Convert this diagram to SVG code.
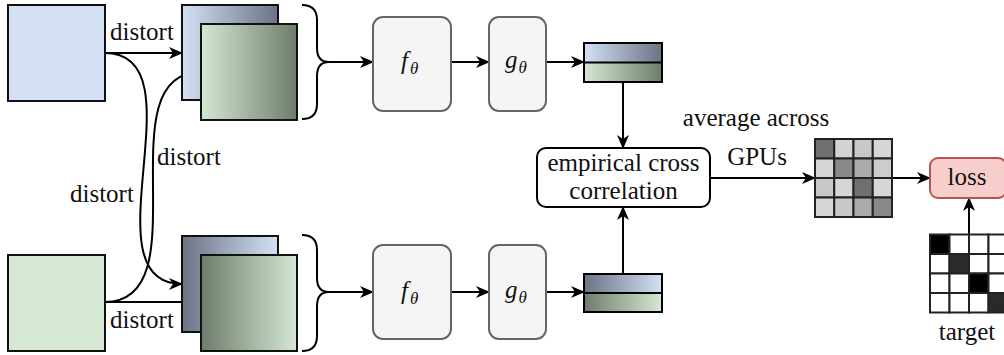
<svg xmlns="http://www.w3.org/2000/svg" width="1004" height="355" viewBox="0 0 1004 355">
<style>
.t{font-size:25px;fill:#111;font-family:"Liberation Serif","Times New Roman",serif}
.sq{stroke:#111;stroke-width:2}
.proc{fill:#f5f5f5;stroke:#666;stroke-width:2}
.ln{fill:none;stroke:#000;stroke-width:2}
.arr{fill:none;stroke:#000;stroke-width:2;marker-end:url(#ah)}
.cell{stroke:#222;stroke-width:2}
.mi{font-style:italic}
.sub{font-style:italic;font-size:17px}
</style>
<defs>
<marker id="ah" markerUnits="userSpaceOnUse" markerWidth="14" markerHeight="12" refX="13" refY="6" orient="auto">
<path d="M0,0 L14,6 L0,12 L4,6 Z" fill="#000"/>
</marker>
<linearGradient id="bR" x1="0" y1="0" x2="1" y2="0"><stop offset="0" stop-color="#d4e1f5"/><stop offset="1" stop-color="#6b7385"/></linearGradient>
<linearGradient id="bL" x1="0" y1="0" x2="1" y2="0"><stop offset="0" stop-color="#6b7385"/><stop offset="1" stop-color="#d4e1f5"/></linearGradient>
<linearGradient id="gR" x1="0" y1="0" x2="1" y2="0"><stop offset="0" stop-color="#d5e8d4"/><stop offset="1" stop-color="#6e7d6b"/></linearGradient>
<linearGradient id="gL" x1="0" y1="0" x2="1" y2="0"><stop offset="0" stop-color="#6e7d6b"/><stop offset="1" stop-color="#d5e8d4"/></linearGradient>
</defs>

<g id="connectors">
<path class="arr" d="M105,53 L182,53"/>
<path class="arr" d="M105,53 C203,53 84,284 182,284"/>
<path class="arr" d="M105,302 C203,302 103,72 201,72"/>
<path class="arr" d="M105,302 L201,302"/>
<path class="arr" d="M329,62 L373,62"/>
<path class="arr" d="M451,62 L489,62"/>
<path class="arr" d="M546,62 L584,62"/>
<path class="arr" d="M329,292 L373,292"/>
<path class="arr" d="M451,292 L489,292"/>
<path class="arr" d="M546,292 L584,292"/>
<path class="arr" d="M623,82 L623,148"/>
<path class="arr" d="M623,274 L623,207"/>
<path class="arr" d="M710,178 L815,178"/>
<path class="arr" d="M892,178 L930,178"/>
<path class="arr" d="M969,234 L969,198"/>
</g>

<g id="labels">
<text class="t" x="110" y="40">distort</text>
<text class="t" x="157" y="165">distort</text>
<text class="t" x="70" y="202">distort</text>
<text class="t" x="110" y="328">distort</text>
<text class="t" x="756" y="126" text-anchor="middle">average across</text>
<text class="t" x="757" y="165" text-anchor="middle">GPUs</text>
</g>

<g id="input-top"><rect class="sq" x="8" y="5" width="97" height="96" fill="#d4e1f5"/></g>
<g id="input-bottom"><rect class="sq" x="8" y="255" width="97" height="96" fill="#d5e8d4"/></g>

<g id="views-top">
<rect class="sq" x="182" y="5" width="96" height="95" fill="url(#bR)"/>
<rect class="sq" x="201" y="24" width="96" height="96" fill="url(#gR)"/>
</g>
<g id="views-bottom">
<rect class="sq" x="182" y="236" width="96" height="96" fill="url(#bL)"/>
<rect class="sq" x="201" y="255" width="96" height="96" fill="url(#gL)"/>
</g>

<g id="brace-top"><path class="ln" d="M302,5 Q317,5 317,20 L317,48 Q317,62 329,62 Q317,62 317,76 L317,104 Q317,119 302,119"/></g>
<g id="brace-bottom"><path class="ln" d="M302,235 Q317,235 317,250 L317,278 Q317,292 329,292 Q317,292 317,306 L317,336 Q317,351 302,351"/></g>

<g id="f-top"><rect class="proc" x="373" y="17" width="78" height="94" rx="10"/><text class="t" x="401" y="69"><tspan class="mi">f</tspan><tspan class="sub" dx="2" dy="5">θ</tspan></text></g>
<g id="g-top"><rect class="proc" x="489" y="17" width="57" height="94" rx="10"/><text class="t" x="505" y="68"><tspan class="mi">g</tspan><tspan class="sub" dx="1" dy="5">θ</tspan></text></g>
<g id="f-bottom"><rect class="proc" x="373" y="245" width="78" height="94" rx="10"/><text class="t" x="401" y="299"><tspan class="mi">f</tspan><tspan class="sub" dx="2" dy="5">θ</tspan></text></g>
<g id="g-bottom"><rect class="proc" x="489" y="245" width="57" height="94" rx="10"/><text class="t" x="505" y="298"><tspan class="mi">g</tspan><tspan class="sub" dx="1" dy="5">θ</tspan></text></g>

<g id="emb-top">
<rect x="584" y="43" width="78" height="19.5" fill="url(#bR)"/>
<rect x="584" y="62.5" width="78" height="19.5" fill="url(#gR)"/>
<rect class="ln" x="584" y="43" width="78" height="39"/>
<line class="ln" x1="584" y1="62.5" x2="662" y2="62.5"/>
</g>
<g id="emb-bottom">
<rect x="584" y="274" width="78" height="19" fill="url(#bL)"/>
<rect x="584" y="293" width="78" height="19" fill="url(#gL)"/>
<rect class="ln" x="584" y="274" width="78" height="38"/>
<line class="ln" x1="584" y1="293" x2="662" y2="293"/>
</g>

<g id="cross-correlation">
<rect x="537" y="148" width="173" height="59" rx="9" fill="#fff" stroke="#000" stroke-width="2"/>
<text class="t" x="623.5" y="171" text-anchor="middle">empirical cross</text>
<text class="t" x="623.5" y="199" text-anchor="middle">correlation</text>
</g>

<g id="cc-matrix">
<rect class="cell" x="815" y="139" width="19.25" height="19.5" fill="#707070"/>
<rect class="cell" x="834.25" y="139" width="19.25" height="19.5" fill="#d3d3d3"/>
<rect class="cell" x="853.5" y="139" width="19.25" height="19.5" fill="#c8c8c8"/>
<rect class="cell" x="872.75" y="139" width="19.25" height="19.5" fill="#d6d6d6"/>
<rect class="cell" x="815" y="158.5" width="19.25" height="19.5" fill="#d6d6d6"/>
<rect class="cell" x="834.25" y="158.5" width="19.25" height="19.5" fill="#888888"/>
<rect class="cell" x="853.5" y="158.5" width="19.25" height="19.5" fill="#ababab"/>
<rect class="cell" x="872.75" y="158.5" width="19.25" height="19.5" fill="#cccccc"/>
<rect class="cell" x="815" y="178" width="19.25" height="19.5" fill="#c8c8c8"/>
<rect class="cell" x="834.25" y="178" width="19.25" height="19.5" fill="#d6d6d6"/>
<rect class="cell" x="853.5" y="178" width="19.25" height="19.5" fill="#707070"/>
<rect class="cell" x="872.75" y="178" width="19.25" height="19.5" fill="#d6d6d6"/>
<rect class="cell" x="815" y="197.5" width="19.25" height="19.5" fill="#d6d6d6"/>
<rect class="cell" x="834.25" y="197.5" width="19.25" height="19.5" fill="#c8c8c8"/>
<rect class="cell" x="853.5" y="197.5" width="19.25" height="19.5" fill="#ababab"/>
<rect class="cell" x="872.75" y="197.5" width="19.25" height="19.5" fill="#888888"/>
</g>

<g id="loss">
<rect x="930" y="158" width="76" height="40" rx="8" fill="#f8cecc" stroke="#b85450" stroke-width="2"/>
<text class="t" x="967" y="185" text-anchor="middle">loss</text>
</g>

<g id="target">
<rect class="cell" x="930" y="234.5" width="19.5" height="19.5" fill="#000"/>
<rect class="cell" x="949.5" y="234.5" width="19.5" height="19.5" fill="#fff"/>
<rect class="cell" x="969" y="234.5" width="19.5" height="19.5" fill="#fff"/>
<rect class="cell" x="988.5" y="234.5" width="19.5" height="19.5" fill="#fff"/>
<rect class="cell" x="930" y="254" width="19.5" height="19.5" fill="#fff"/>
<rect class="cell" x="949.5" y="254" width="19.5" height="19.5" fill="#2a2a2a"/>
<rect class="cell" x="969" y="254" width="19.5" height="19.5" fill="#fff"/>
<rect class="cell" x="988.5" y="254" width="19.5" height="19.5" fill="#fff"/>
<rect class="cell" x="930" y="273.5" width="19.5" height="19.5" fill="#fff"/>
<rect class="cell" x="949.5" y="273.5" width="19.5" height="19.5" fill="#fff"/>
<rect class="cell" x="969" y="273.5" width="19.5" height="19.5" fill="#000"/>
<rect class="cell" x="988.5" y="273.5" width="19.5" height="19.5" fill="#fff"/>
<rect class="cell" x="930" y="293" width="19.5" height="19.5" fill="#fff"/>
<rect class="cell" x="949.5" y="293" width="19.5" height="19.5" fill="#fff"/>
<rect class="cell" x="969" y="293" width="19.5" height="19.5" fill="#fff"/>
<rect class="cell" x="988.5" y="293" width="19.5" height="19.5" fill="#2a2a2a"/>
<text class="t" x="967" y="340" text-anchor="middle">target</text>
</g>
</svg>
